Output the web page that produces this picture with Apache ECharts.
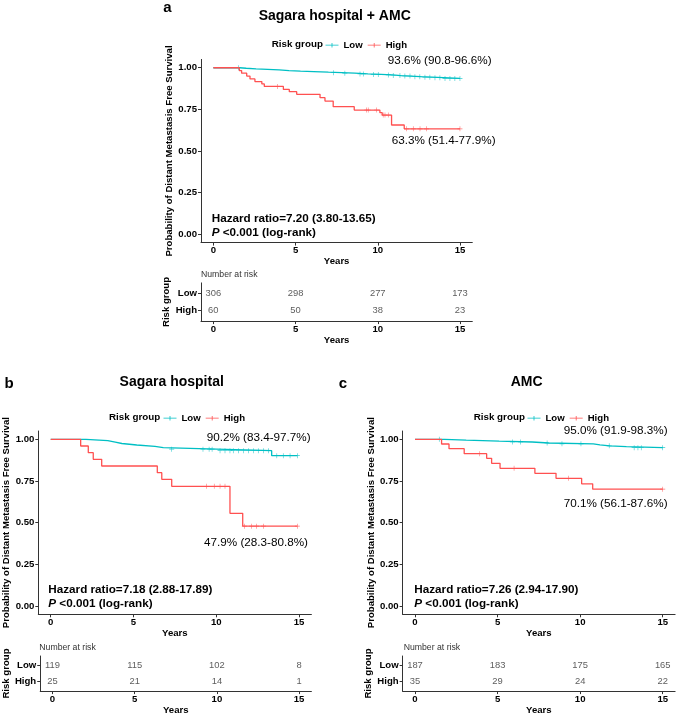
<!DOCTYPE html>
<html><head><meta charset="utf-8">
<script src="https://cdn.jsdelivr.net/npm/echarts@6/dist/echarts.min.js"></script>
<style>html,body{margin:0;padding:0;background:#fff}#c{width:676px;height:716px}</style>
</head><body><div id="c"></div>
<script>
// ---------- data ----------
const xTicks = [0, 5, 10, 15];
const yTicks = [0, 0.25, 0.5, 0.75, 1];
const riskTimes = [0, 5, 10, 15];
const riskRows = ['High', 'Low'];

// Panel a: Sagara hospital + AMC  [time, survival after event]
const aLow = [[0,1],[1.6,0.997],[2.0,0.993],[2.6,0.990],[3.3,0.987],[4.0,0.983],[4.6,0.980],[5.3,0.977],[6.1,0.973],[7.0,0.970],[7.8,0.967],[8.6,0.963],[9.4,0.960],[10.2,0.957],[10.9,0.953],[11.4,0.950],[12.0,0.946],[12.6,0.943],[13.3,0.940],[14.0,0.936],[15.0,0.936]];
const aLowCens = [1.52,7.3,8.0,8.92,9.12,9.73,10.03,10.64,10.94,11.35,11.65,11.96,12.26,12.56,12.87,13.17,13.48,13.78,14.09,14.39,14.69,15.0];
const aHigh = [[0,1],[1.58,0.983],[1.72,0.967],[2.03,0.950],[2.23,0.933],[2.53,0.917],[2.95,0.903],[3.1,0.888],[4.26,0.870],[4.62,0.856],[5.07,0.840],[6.49,0.820],[6.79,0.800],[7.29,0.766],[8.57,0.746],[10.13,0.730],[10.27,0.716],[10.84,0.656],[11.61,0.633],[15.0,0.633]];
const aHighCens = [3.91,9.32,9.42,9.93,10.33,10.44,10.64,11.76,12.16,12.57,12.97,15.0];
const aRiskLow = [306, 298, 277, 173];
const aRiskHigh = [60, 50, 38, 23];

// Panel b: Sagara hospital
const bLow = [[0,1],[2.13,0.992],[3.45,0.983],[3.9,0.975],[4.3,0.966],[5.2,0.958],[6.3,0.950],[6.8,0.941],[10.03,0.932],[13.35,0.902],[14.9,0.902]];
const bLowCens = [7.31,9.2,9.57,9.75,10.23,10.53,10.83,11.03,11.34,11.64,11.94,12.24,12.54,12.85,13.15,13.66,14.05,14.46,14.9];
const bHigh = [[0,1],[1.81,0.96],[2.27,0.92],[2.57,0.88],[3.08,0.84],[6.44,0.80],[6.71,0.76],[7.31,0.718],[10.83,0.556],[11.6,0.479],[14.9,0.479]];
const bHighCens = [9.42,9.88,10.23,10.53,11.7,12.14,12.44,12.85,14.9];
const bRiskLow = [119, 115, 102, 8];
const bRiskHigh = [25, 21, 14, 1];

// Panel c: AMC
const cLow = [[0,1],[1.8,0.995],[3.1,0.989],[5.1,0.984],[7.1,0.978],[8.1,0.973],[10.8,0.967],[11.2,0.961],[11.8,0.956],[12.8,0.950],[15.0,0.950]];
const cLowCens = [1.47,5.9,6.4,8.0,8.9,10.05,11.76,13.27,13.5,13.7,15.0];
const cHigh = [[0,1],[1.61,0.972],[2.06,0.944],[2.98,0.914],[4.34,0.886],[4.64,0.856],[5.15,0.826],[7.26,0.796],[8.54,0.766],[10.09,0.733],[10.76,0.701],[15.0,0.701]];
const cHighCens = [3.92,6.0,9.3,15.0];
const cRiskLow = [187, 183, 175, 165];
const cRiskHigh = [35, 29, 24, 22];

// ---------- drawing ----------
const FONT = '"Liberation Sans", Arial, Helvetica, sans-serif';
const TEAL = '#00BFC4', RED = '#FF5050', AX = '#333';
const PLUS = 'path://M4.4,0H5.6V10H4.4Z M0,4.4H10V5.6H0Z';
const LEGICON = 'path://M0,4.4H20V5.6H0Z M9.4,1.5H10.6V8.5H9.4Z';

function survAt(steps, t) {
  let s = steps[0][1];
  for (const p of steps) { if (p[0] <= t) s = p[1]; }
  return s;
}

const panels = [
  {km:{left:201, top:59.4, width:271.3, height:183.2}, tb:{left:201, top:282.9, width:271.3, height:38.2},
   low:aLow, high:aHigh, lowC:aLowCens, highC:aHighCens, rl:aRiskLow, rh:aRiskHigh, legLeft:325.5, legTop:40.2},
  {km:{left:38.3, top:431, width:273.1, height:183.3}, tb:{left:38.3, top:656, width:273.1, height:36.7},
   low:bLow, high:bHigh, lowC:bLowCens, highC:bHighCens, rl:bRiskLow, rh:bRiskHigh, legLeft:163.5, legTop:413.2},
  {km:{left:402.6, top:431, width:272.5, height:183.3}, tb:{left:402.6, top:656, width:272.5, height:36.7},
   low:cLow, high:cHigh, lowC:cLowCens, highC:cHighCens, rl:cRiskLow, rh:cRiskHigh, legLeft:527.5, legTop:413.2}
];

const grid = [], xAxis = [], yAxis = [], series = [], legend = [];
const bold = {fontWeight:'bold', fontSize:9.6, color:'#000', fontFamily:FONT};

panels.forEach((p, i) => {
  const gk = i * 2, gt = i * 2 + 1;
  grid.push(Object.assign({containLabel:false}, p.km));
  grid.push(Object.assign({containLabel:false}, p.tb));
  // KM axes
  xAxis.push({gridIndex:gk, type:'value', min:-0.75, max:15.75,
    axisLine:{show:true, onZero:false, lineStyle:{color:AX, width:1}},
    axisTick:{show:true, customValues:xTicks, length:3, lineStyle:{color:AX}},
    axisLabel:Object.assign({customValues:xTicks, margin:3}, bold),
    splitLine:{show:false}, name:'Years', nameLocation:'middle', nameGap:12, nameTextStyle:bold});
  yAxis.push({gridIndex:gk, type:'value', min:-0.05, max:1.05,
    axisLine:{show:true, onZero:false, lineStyle:{color:AX, width:1}},
    axisTick:{show:true, customValues:yTicks, length:3, lineStyle:{color:AX}},
    axisLabel:Object.assign({customValues:yTicks, margin:4, formatter:v => v.toFixed(2)}, bold),
    splitLine:{show:false}, name:'Probability of Distant Metastasis Free Survival',
    nameLocation:'middle', nameGap:26, nameTextStyle:bold});
  // table axes
  xAxis.push({gridIndex:gt, type:'value', min:-0.75, max:15.75,
    axisLine:{show:true, onZero:false, lineStyle:{color:AX, width:1}},
    axisTick:{show:true, customValues:xTicks, length:3, lineStyle:{color:AX}},
    axisLabel:Object.assign({customValues:xTicks, margin:3}, bold),
    splitLine:{show:false}, name:'Years', nameLocation:'middle', nameGap:12, nameTextStyle:bold});
  yAxis.push({gridIndex:gt, type:'value', min:0.4, max:2.6,
    axisLine:{show:true, onZero:false, lineStyle:{color:AX, width:1}},
    axisTick:{show:true, customValues:[1,2], length:3, lineStyle:{color:AX}},
    axisLabel:Object.assign({customValues:[1,2], margin:4, formatter:v => riskRows[Math.round(v) - 1]}, bold),
    splitLine:{show:false}, name:'Risk group', nameLocation:'middle', nameGap:26, nameTextStyle:bold});

  const groupsDef = [
    {name:'Low', steps:p.low, cens:p.lowC, color:TEAL},
    {name:'High', steps:p.high, cens:p.highC, color:RED}
  ];
  groupsDef.forEach(g => {
    series.push({type:'line', name:g.name, xAxisIndex:gk, yAxisIndex:gk, data:g.steps, step:'end',
      showSymbol:false, symbol:'none', lineStyle:{color:g.color, width:1.3}, itemStyle:{color:g.color},
      silent:true, animation:false});
    series.push({type:'scatter', name:g.name, xAxisIndex:gk, yAxisIndex:gk,
      data:g.cens.map(t => [t, survAt(g.steps, t)]), symbol:PLUS, symbolSize:5,
      itemStyle:{color:g.color}, silent:true, animation:false});
  });
  // risk table numbers
  [[p.rl, 2], [p.rh, 1]].forEach(([vals, row]) => {
    series.push({type:'scatter', xAxisIndex:gt, yAxisIndex:gt, symbolSize:0,
      data:vals.map((v, k) => [riskTimes[k], row, v]),
      label:{show:true, position:'inside', formatter:d => String(d.value[2]), color:'#333', fontSize:9.4, fontFamily:FONT},
      silent:true, animation:false});
  });
  legend.push({left:p.legLeft, top:p.legTop, padding:0, orient:'horizontal', itemWidth:13, itemHeight:7, itemGap:5,
    data:[{name:'Low', icon:LEGICON, itemStyle:{color:TEAL}}, {name:'High', icon:LEGICON, itemStyle:{color:RED}}],
    textStyle:{fontWeight:'bold', fontSize:9.6, color:'#000', fontFamily:FONT},
    selectedMode:false});
});

function T(x, y, text, o) {
  o = o || {};
  return {type:'text', x:x, y:y, silent:true, style:{text:text, fill:o.fill || '#000',
    fontSize:o.size || 11.7, fontWeight:o.weight || 'normal', fontFamily:FONT,
    align:o.align || 'left', verticalAlign:'middle', rich:o.rich}};
}
const ital = {i:{fontStyle:'italic', fontWeight:'bold', fontSize:11.7, fontFamily:FONT}};
const graphics = [
  T(167.3, 8, 'a', {size:15, weight:'bold', align:'center'}),
  T(334.7, 16, 'Sagara hospital + AMC', {size:14, weight:'bold', align:'center'}),
  T(271.7, 44.3, 'Risk group', {size:9.8, weight:'bold'}),
  T(387.7, 61, '93.6% (90.8-96.6%)'),
  T(391.7, 140.7, '63.3% (51.4-77.9%)'),
  T(211.7, 218.3, 'Hazard ratio=7.20 (3.80-13.65)', {weight:'bold'}),
  T(211.7, 232.3, '{i|P} <0.001 (log-rank)', {weight:'bold', rich:ital}),
  T(201, 274.3, 'Number at risk', {size:8.7, fill:'#333'}),

  T(9, 384, 'b', {size:15, weight:'bold', align:'center'}),
  T(171.7, 382, 'Sagara hospital', {size:14, weight:'bold', align:'center'}),
  T(109, 417.3, 'Risk group', {size:9.8, weight:'bold'}),
  T(206.7, 437.3, '90.2% (83.4-97.7%)'),
  T(204, 542.3, '47.9% (28.3-80.8%)'),
  T(48.3, 590, 'Hazard ratio=7.18 (2.88-17.89)', {weight:'bold'}),
  T(48.3, 603.3, '{i|P} <0.001 (log-rank)', {weight:'bold', rich:ital}),
  T(39.3, 647.3, 'Number at risk', {size:8.7, fill:'#333'}),

  T(343, 384, 'c', {size:15, weight:'bold', align:'center'}),
  T(526.7, 382, 'AMC', {size:14, weight:'bold', align:'center'}),
  T(473.7, 417.3, 'Risk group', {size:9.8, weight:'bold'}),
  T(563.7, 430.7, '95.0% (91.9-98.3%)'),
  T(563.7, 503.3, '70.1% (56.1-87.6%)'),
  T(414.3, 590, 'Hazard ratio=7.26 (2.94-17.90)', {weight:'bold'}),
  T(414.3, 603.3, '{i|P} <0.001 (log-rank)', {weight:'bold', rich:ital}),
  T(403.7, 647.3, 'Number at risk', {size:8.7, fill:'#333'})
];

const chart = echarts.init(document.getElementById('c'), null, {renderer:'canvas'});
chart.setOption({
  animation:false, backgroundColor:'#fff',
  grid:grid, xAxis:xAxis, yAxis:yAxis, series:series, legend:legend,
  graphic:graphics, tooltip:{show:false}
});
</script></body></html>
